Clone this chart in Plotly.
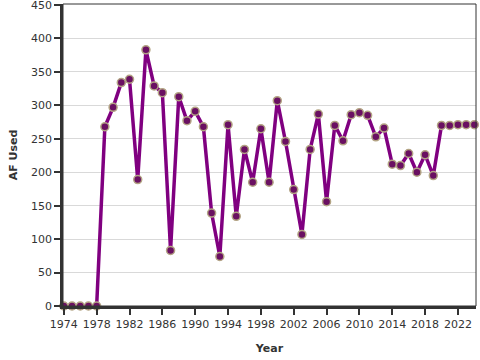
import plotly.graph_objects as go

years = list(range(1974, 2025))
af_used = [0, 0, 0, 0, 0, 268, 297, 334, 339, 189,
           383, 329, 319, 83, 313, 277, 291, 268, 139, 74,
           271, 134, 234, 185, 265, 185, 307, 246, 174, 107,
           234, 287, 156, 270, 247, 286, 289, 285, 253, 266,
           212, 210, 228, 200, 226, 195, 270, 270, 271, 271,
           271]
x_ticks = list(range(1974, 2023, 4))
y_ticks = list(range(0, 451, 50))

fig = go.Figure()
fig.add_trace(go.Scatter(
    x=years, y=af_used, mode="lines+markers",
    line=dict(color="#800080", width=3.5),
    marker=dict(size=8, color="#6a1062", line=dict(color="#b3a484", width=1.5)),
    cliponaxis=False, showlegend=False,
))

fig.update_layout(
    width=480, height=370,
    margin=dict(l=63, r=4, t=14, b=54),
    paper_bgcolor="white", plot_bgcolor="white",
    font=dict(family="DejaVu Sans, Verdana, sans-serif", size=11, color="#333"),
    xaxis=dict(
        range=[1973.9, 2024.2], tickvals=x_ticks, ticktext=[str(t) for t in x_ticks],
        showgrid=False, zeroline=False, showline=True, linecolor="#333", linewidth=2.5,
        ticks="outside", ticklen=6, tickcolor="#333", tickwidth=1.5,
        title=dict(text="<b>Year</b>", font=dict(size=11, color="#333"), standoff=15),
    ),
    yaxis=dict(
        range=[0, 451.5], tickvals=y_ticks,
        showgrid=True, gridcolor="#d9d9d9", gridwidth=1, zeroline=False,
        showline=True, linecolor="#333", linewidth=2.5,
        ticks="outside", ticklen=6, tickcolor="#333", tickwidth=1.5,
        title=dict(text="<b>AF Used</b>", font=dict(size=11, color="#333"), standoff=12),
    ),
    shapes=[dict(type="rect", xref="paper", yref="paper", x0=0, x1=1, y0=0, y1=1,
                 line=dict(color="#333", width=1), layer="above")],
)

fig.write_html(
    "out.html",
    config={"displayModeBar": False},
    post_script="document.body.style.margin='0';document.body.style.padding='0';"
                "document.body.style.marginTop='-10px';document.body.style.overflow='hidden';",
)
